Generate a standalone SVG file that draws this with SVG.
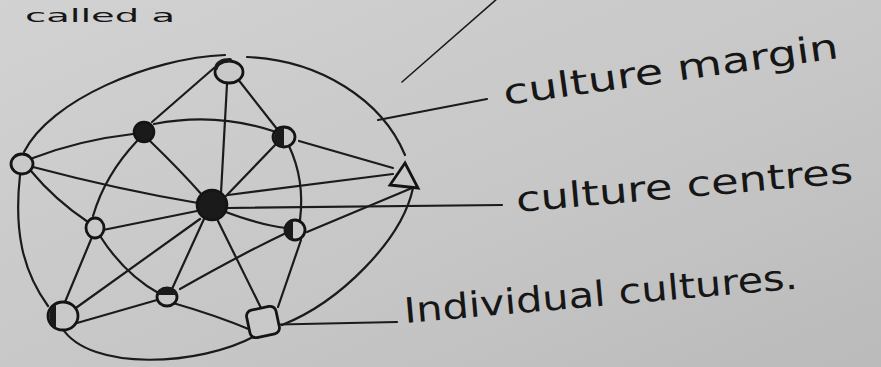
<svg xmlns="http://www.w3.org/2000/svg" width="881" height="367" viewBox="0 0 881 367">
<defs>
<linearGradient id="paper" x1="0" y1="0" x2="1" y2="1">
<stop offset="0" stop-color="#d2d2d2"/>
<stop offset="0.6" stop-color="#c6c6c6"/>
<stop offset="1" stop-color="#bababa"/>
</linearGradient>
<style>
.ln{fill:none;stroke:#1b1b1b;stroke-width:2.2;stroke-linecap:round}
.nd{fill:#c9c9c9;stroke:#141414;stroke-width:2.8}
.dk{fill:#1a1a1a;stroke:#141414;stroke-width:2.6}
.tx{font-family:"DejaVu Sans","Liberation Sans",sans-serif;fill:#161616;font-size:35px}
</style>
</defs>
<rect width="881" height="367" fill="url(#paper)"/>
<text class="tx" x="25" y="22" style="font-size:18px" textLength="150" lengthAdjust="spacingAndGlyphs">called a</text>
<g id="connectors">
<!-- outer boundary -->
<path class="ln" d="M225,55 C150,58 50,100 24,152"/>
<path class="ln" d="M20,175 C14,230 22,270 48,306"/>
<path class="ln" d="M62,328 C90,372 200,366 255,336"/>
<path class="ln" d="M282,325 C340,302 402,240 413,188"/>
<path class="ln" d="M247,57 C320,60 382,100 405,155"/>
<!-- interior -->
<path class="ln" d="M214,68 L152,122"/>
<path class="ln" d="M227,84 L221,193"/>
<path class="ln" d="M237,78 L277,129"/>
<path class="ln" d="M154,124 Q215,112 273,131"/>
<path class="ln" d="M150,141 Q180,170 203,196"/>
<path class="ln" d="M137,141 Q105,175 93,216"/>
<path class="ln" d="M33,158 Q80,140 133,134"/>
<path class="ln" d="M33,167 Q120,190 198,203"/>
<path class="ln" d="M31,171 Q55,200 88,222"/>
<path class="ln" d="M278,142 L226,196"/>
<path class="ln" d="M299,141 L393,168"/>
<path class="ln" d="M289,146 Q305,180 300,220"/>
<path class="ln" d="M228,195 L393,174"/>
<path class="ln" d="M223,211 Q260,225 286,228"/>
<path class="ln" d="M197,211 L103,230"/>
<path class="ln" d="M204,219 L172,289"/>
<path class="ln" d="M200,219 L73,310"/>
<path class="ln" d="M217,219 L261,308"/>
<path class="ln" d="M92,237 L65,302"/>
<path class="ln" d="M100,236 Q125,275 160,294"/>
<path class="ln" d="M180,289 Q240,255 284,234"/>
<path class="ln" d="M301,240 L278,307"/>
<path class="ln" d="M77,323 L157,300"/>
<path class="ln" d="M173,303 Q215,315 251,330"/>
<path class="ln" d="M307,232 L412,188"/>
<!-- label pointers -->
<path class="ln" d="M378,120 L487,99"/>
<path class="ln" d="M228,208 L502,205"/>
<path class="ln" d="M255,325 L397,322"/>
<path class="ln" d="M402,82 L498,-2" style="stroke-width:1.6"/>
</g>
<g id="node-top"><ellipse class="nd" cx="229" cy="72" rx="14" ry="11"/><path d="M216,68 Q218,60 230,60" class="ln" style="stroke-width:4"/></g>
<g id="node-upper-left"><circle class="dk" cx="144" cy="132" r="10"/></g>
<g id="node-upper-right"><ellipse class="nd" cx="284" cy="137" rx="11" ry="10"/><path d="M284,127 A10,10 0 0,0 284,147 Z" fill="#1a1a1a"/></g>
<g id="node-left"><ellipse class="nd" cx="22" cy="164" rx="11" ry="10"/></g>
<g id="node-centre"><circle class="dk" cx="212" cy="205" r="15"/></g>
<g id="node-left-mid"><ellipse class="nd" cx="95" cy="228" rx="9" ry="10"/></g>
<g id="node-right-mid"><ellipse class="nd" cx="295" cy="230" rx="10" ry="10"/><path d="M293,220 A9,10 0 0,0 293,240 Z" fill="#1a1a1a"/></g>
<g id="node-bottom-mid"><ellipse class="nd" cx="167" cy="297" rx="10" ry="9"/><path d="M157,295 A10,8 0 0,1 177,295 Z" fill="#1a1a1a"/></g>
<g id="node-bottom-left"><ellipse class="nd" cx="63" cy="316" rx="15" ry="14"/><path d="M56,304 A14,14 0 0,0 56,328 Z" fill="#1a1a1a"/></g>
<g id="node-square"><rect class="nd" x="248" y="308" width="30" height="28" rx="6" transform="rotate(-12 263 322)"/></g>
<g id="node-triangle"><path class="nd" d="M405,163 L390,185 L418,188 Z" style="fill:none"/></g>
<g id="labels">
<text class="tx" x="505" y="105" textLength="338" lengthAdjust="spacingAndGlyphs" transform="rotate(-8 505 105)">culture margin</text>
<text class="tx" x="517" y="212" textLength="338" lengthAdjust="spacingAndGlyphs" transform="rotate(-5 517 212)">culture centres</text>
<text class="tx" x="405" y="323" textLength="395" lengthAdjust="spacingAndGlyphs" transform="rotate(-5 405 323)">Individual cultures.</text>
</g>
</svg>
